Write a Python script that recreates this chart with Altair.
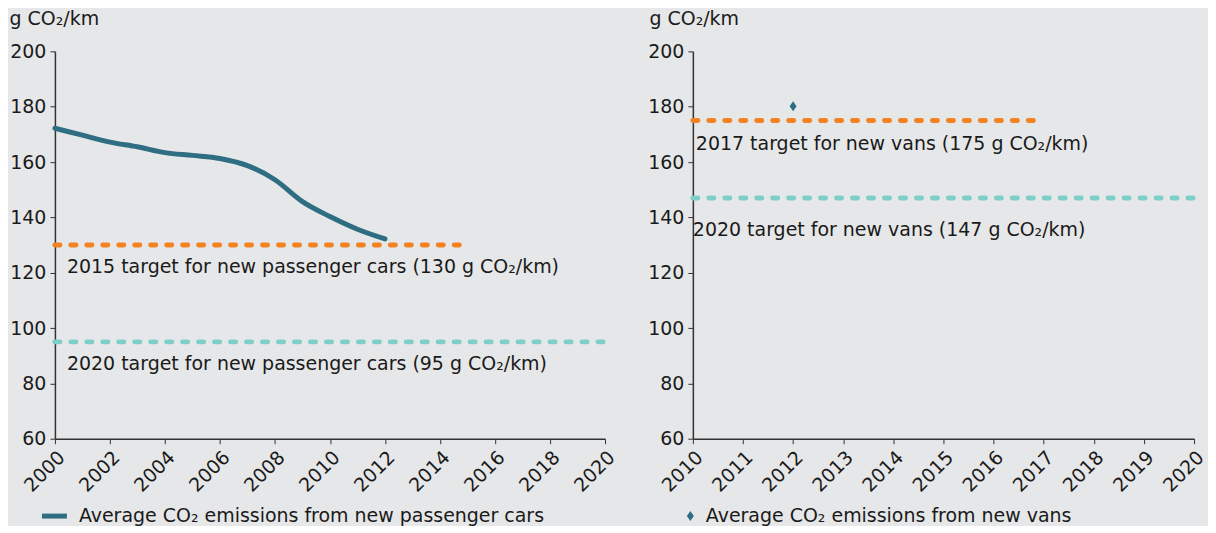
import altair as alt
import pandas as pd

# ---------------- data ----------------
car_years = [2000, 2001, 2002, 2003, 2004, 2005, 2006, 2007, 2008, 2009, 2010, 2011, 2012]
car_co2 = [172.2, 169.7, 167.2, 165.5, 163.4, 162.4, 161.3, 158.7, 153.6, 145.7, 140.3, 135.7, 132.2]
car_series = "Average CO₂ emissions from new passenger cars"

van_years = [2012]
van_co2 = [180.2]
van_series = "Average CO₂ emissions from new vans"

car_target_labels = ["2015 target for new passenger cars (130 g CO₂/km)",
                     "2020 target for new passenger cars (95 g CO₂/km)"]
car_target_values = [130, 95]
car_target_start = [2000, 2000]
car_target_end = [2015, 2020]

van_target_labels = ["2017 target for new vans (175 g CO₂/km)",
                     "2020 target for new vans (147 g CO₂/km)"]
van_target_values = [175, 147]
van_target_start = [2010, 2010]
van_target_end = [2017, 2020]

car_axis_years = list(range(2000, 2021))
van_axis_years = list(range(2010, 2021))
y_ticks = [60, 80, 100, 120, 140, 160, 180, 200]
y_title = "g CO₂/km"

# ---------------- style ----------------
BG = "#e6e7e8"
LINE = "#2f6e82"
ORANGE = "#f58220"
TEAL = "#7fcec8"
TXT = "#1a1a1a"
FONT = "DejaVu Sans"
FS = 19
H = 388

cars = pd.DataFrame({"year": car_years, "co2": car_co2, "series": car_series})
vans = pd.DataFrame({"year": van_years, "co2": van_co2, "series": van_series})
car_t = pd.DataFrame({"label": car_target_labels, "value": car_target_values,
                      "start": car_target_start, "end": car_target_end})
van_t = pd.DataFrame({"label": van_target_labels, "value": van_target_values,
                      "start": van_target_start, "end": van_target_end})

y_scale = alt.Scale(domain=[60, 200], nice=False, zero=False)


def y_axis(tx):
    return alt.Axis(values=y_ticks, title=y_title, titleAngle=0, titleAlign="left",
                    titleBaseline="middle", titleX=tx, titleY=-33, grid=False)


def x_enc(field, domain, values, expr=None):
    kw = dict(values=values, format="d", labelAngle=-45, title=None, grid=False)
    if expr:
        kw["labelExpr"] = expr
    return alt.X(f"{field}:Q", scale=alt.Scale(domain=domain, nice=False, zero=False),
                 axis=alt.Axis(**kw))


def target_layers(df, domain, values, colors, dxs, dys, tx, expr=None):
    layers = []
    for i, (c, dx, dy) in enumerate(zip(colors, dxs, dys)):
        row = df.iloc[[i]]
        rule = alt.Chart(row).mark_rule(strokeWidth=5, strokeDash=[5, 11], strokeCap="round",
                                        color=c).encode(
            x=x_enc("start", domain, values, expr), x2="end:Q",
            y=alt.Y("value:Q", scale=y_scale, axis=y_axis(tx)))
        txt = alt.Chart(row).mark_text(align="left", baseline="middle", dx=dx, dy=dy,
                                       font=FONT, fontSize=FS, color=TXT).encode(
            x="start:Q", y="value:Q", text="label:N")
        layers += [rule, txt]
    return layers


# ---------------- left panel ----------------
car_expr = "datum.value % 2 === 0 ? datum.label : ''"
bar_symbol = "M-2,0L2,0"
car_line = alt.Chart(cars).mark_line(strokeWidth=5, interpolate="monotone", strokeCap="round").encode(
    x=x_enc("year", [2000, 2020], car_axis_years, car_expr),
    y=alt.Y("co2:Q", scale=y_scale, axis=y_axis(-46)),
    color=alt.Color("series:N", scale=alt.Scale(domain=[car_series], range=[LINE]),
                    legend=alt.Legend(orient="none", legendX=-10, legendY=456, title=None,
                                      symbolType=bar_symbol, symbolStrokeWidth=5, symbolSize=156,
                                      labelFont=FONT, labelFontSize=FS, labelColor=TXT,
                                      labelOffset=15, labelLimit=700, padding=0)))

left = alt.layer(
    *target_layers(car_t, [2000, 2020], car_axis_years, [ORANGE, TEAL], [12, 12], [22, 22], -46, car_expr),
    car_line,
).properties(width=551, height=H)

# ---------------- right panel ----------------
diamond = "M-0.7,0L0,-1L0.7,0L0,1Z"
van_pt = alt.Chart(vans).mark_point(shape=diamond, filled=True, size=100, opacity=1).encode(
    x=x_enc("year", [2010, 2020], van_axis_years),
    y=alt.Y("co2:Q", scale=y_scale, axis=y_axis(-44)),
    color=alt.Color("series:N", scale=alt.Scale(domain=[van_series], range=[LINE]),
                    legend=alt.Legend(orient="none", legendX=-12, legendY=456, title=None,
                                      symbolType=diamond, symbolSize=100,
                                      labelFont=FONT, labelFontSize=FS, labelColor=TXT,
                                      labelOffset=6, labelLimit=700, padding=0)))

right = alt.layer(
    *target_layers(van_t, [2010, 2020], van_axis_years, [ORANGE, TEAL], [3, 0], [24, 32], -44),
    van_pt,
).properties(width=502, height=H)

chart = alt.hconcat(left, right, spacing=28).resolve_scale(
    color="independent", x="independent"
).resolve_legend(color="independent").properties(
    background=BG, padding={"left": 1, "top": 1, "right": 0, "bottom": -1}
).configure_view(stroke=None).configure_axis(
    labelFont=FONT, labelFontSize=FS, labelColor=TXT, titleFont=FONT, titleFontSize=FS,
    titleFontWeight="normal", titleColor=TXT, domainColor="#333333", tickColor="#333333",
    tickSize=5, labelPadding=4, domainWidth=1.5
)

chart.save("out.html", embed_options={"renderer": "svg", "actions": False})
